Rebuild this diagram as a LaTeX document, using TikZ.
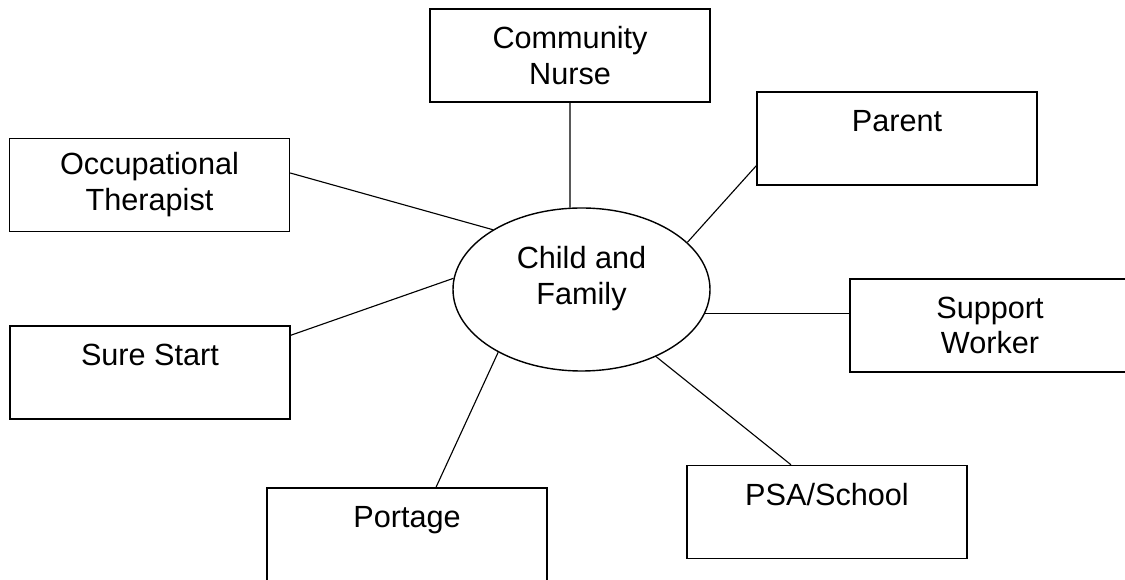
\documentclass[tikz,border=0pt]{standalone}
\usepackage{fontspec}
\setmainfont{Liberation Sans}
\usetikzlibrary{shapes.geometric}

\begin{document}
\begin{tikzpicture}[
  agency/.style={draw=black, line width=1pt, rectangle, minimum width=7cm, minimum height=2.325cm, align=center, inner sep=0pt},
  hub/.style={draw=black, line width=1pt, ellipse, minimum width=6.425cm, minimum height=4.075cm, inner sep=0pt},
  link/.style={draw=black, line width=0.8pt}]
\tikzstyle{every node}+=[font=\fontsize{21.8}{25.5}\selectfont]
\useasboundingbox (0,0) rectangle (28.125,14.5);
\node [hub] (cf) at (14.5375,7.2625) {};
\node [align=center] (cftext) at ([yshift=0.27cm]cf.center) {Child and\\Family};
\node [agency] (cn) at (14.25,13.1125) {Community\\Nurse};
\node [agency] (pa) at (22.425,11.0375) {Parent\\~};
\node [agency] (ot) at (3.7375,9.875) {Occupational\\Therapist};
\node [agency] (ss) at (3.75,5.1875) {Sure Start\\~};
\node [agency] (sw) at (24.75,6.3625) {Support\\Worker};
\node [agency] (po) at (10.175,1.1375) {Portage\\~};
\node [agency] (psa) at (20.675,1.7) {PSA/School\\~};
\draw [link] (cn.south) -- (cf.98);
\draw [link] ([yshift=0.5cm]pa.south west) -- (cf.24);
\draw [link] ([yshift=0.3cm]ot.east) -- (cf.146);
\draw [link] ([yshift=-0.25cm]ss.north east) -- (cf.175);
\draw [link] (cf.-11) -- (cf.-11 -| sw.west);
\draw [link] ([xshift=0.725cm]po.north) -- (cf.217);
\draw [link] ([xshift=-0.9cm]psa.north) -- (cf.-42);
\end{tikzpicture}
\end{document}
